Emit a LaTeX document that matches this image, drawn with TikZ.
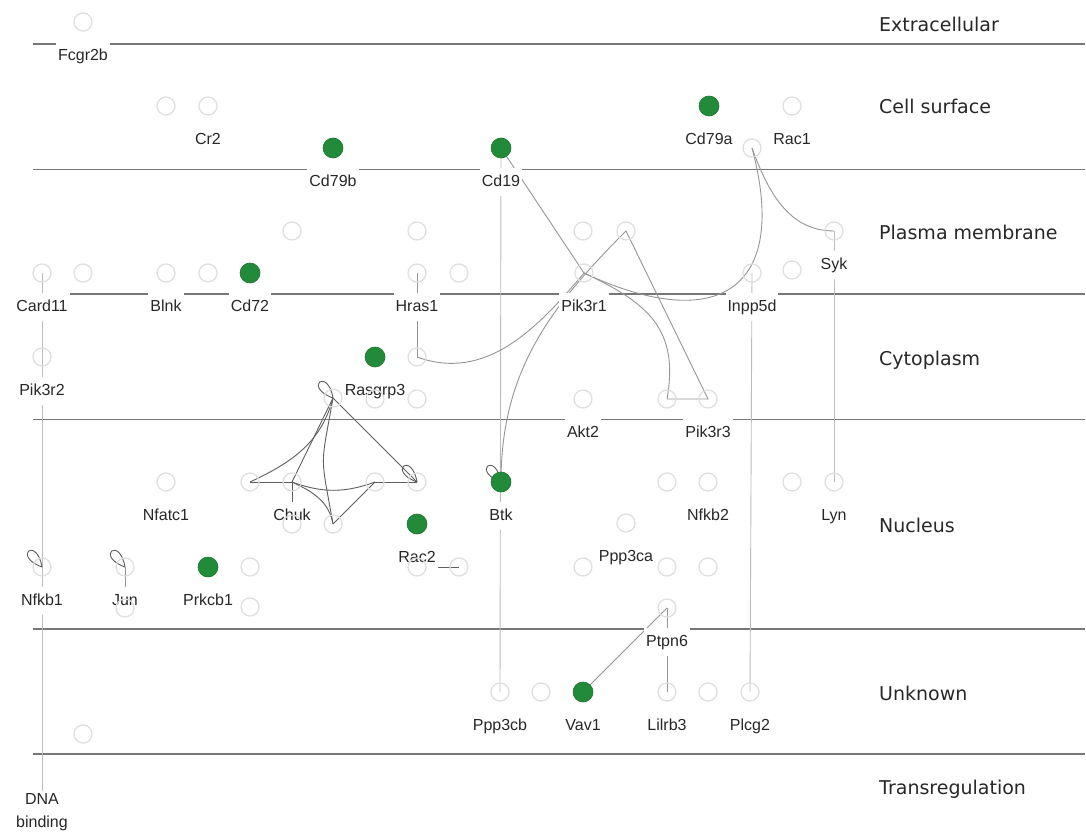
\documentclass[tikz,border=0pt]{standalone}
\usepackage{fontspec}
\setmainfont{Liberation Sans}
\newfontfamily\regionfont{DejaVu Sans}
\usetikzlibrary{backgrounds}
\definecolor{hitgreen}{RGB}{33,139,58}
\definecolor{ringgray}{RGB}{222,222,222}
\definecolor{wire}{RGB}{150,150,150}
\definecolor{wirelight}{RGB}{188,188,188}
\definecolor{wiredark}{RGB}{95,95,95}
\definecolor{membrane}{RGB}{118,118,118}
\definecolor{ink}{RGB}{40,40,40}
\tikzset{
  prot/.style={circle,draw=ringgray,line width=1.2pt,minimum size=18pt,inner sep=0pt},
  hit/.style={circle,draw=hitgreen!85!black,fill=hitgreen,line width=0.6pt,minimum size=20pt,inner sep=0pt},
  gene/.style={fill=white,inner xsep=2pt,inner ysep=6pt,text=ink,
    font=\fontsize{16}{19}\selectfont,text height=12pt,text depth=3.5pt},
  dnalbl/.style={fill=white,inner sep=2pt,text=ink,align=center,font=\fontsize{16}{23}\selectfont},
  region/.style={anchor=west,inner sep=0pt,text=ink,
    font=\regionfont\fontsize{19}{22}\selectfont,text height=14pt,text depth=4pt},
  wall/.style={draw=membrane,line width=1.1pt},
  link/.style={draw=#1,line width=0.9pt},
  link/.default=wire,
  selfloop/.style={out=100,in=160,min distance=32pt},
}
\begin{document}
\begin{tikzpicture}[x=1pt,y=1pt]
  % proteins
  \foreach \n/\x/\y/\t in {fcgr2b/83/22/Fcgr2b,cr2/208/106/Cr2,rac1/792/106/Rac1,syk/834/231/Syk,
      card11/42/273/Card11,blnk/166/273/Blnk,hras1/417/273/Hras1,pik3r1/584/273/Pik3r1,
      inpp5d/752/273/Inpp5d,pik3r2/42/357/Pik3r2,akt2/583/399/Akt2,pik3r3/708/399/Pik3r3,
      nfatc1/166/482/Nfatc1,chuk/292/482/Chuk,nfkb2/708/482/Nfkb2,lyn/834/482/Lyn,
      ppp3ca/626/523/Ppp3ca,nfkb1/42/567/Nfkb1,jun/125/567/Jun,ptpn6/667/608/Ptpn6,
      ppp3cb/500/692/Ppp3cb,lilrb3/667/692/Lilrb3,plcg2/750/692/Plcg2}{
    \node[prot] (\n) at (\x,-\y) {};
    \node[gene] (\n-t) at (\x,-\y-34) {\t};
  }
  \foreach \n/\x/\y/\t in {cd79b/333/148/Cd79b,cd19/501/148/Cd19,cd79a/709/106/Cd79a,
      cd72/250/273/Cd72,rasgrp3/375/357/Rasgrp3,btk/501/482/Btk,rac2/417/524/Rac2,
      prkcb1/208/567/Prkcb1,vav1/583/692/Vav1}{
    \node[hit] (\n) at (\x,-\y) {};
    \node[gene] (\n-t) at (\x,-\y-34) {\t};
  }
  \foreach \n/\x/\y in {cs1/166/106,cs2/752/148,pm1/292/231,pm2/417/231,pm3/583/231,pm4/626/231,
      pm5/83/273,pm6/208/273,pm7/459/273,pm8/792/270,cy1/417/357,cy2/333/398,cy3/375/399,
      cy4/417/399,cy5/667/399,nu1/250/482,nu2/375/482,nu3/417/482,nu4/667/482,nu5/792/482,
      nu6/292/524,nu7/333/524,nu8/250/567,nu9/417/567,nu10/459/567,nu11/583/567,nu12/667/567,
      nu13/708/567,nu14/125/608,nu15/250/607,un1/541/692,un2/708/692,un3/83/734}
    \node[prot] (\n) at (\x,-\y) {};
  \node[prot,draw=hitgreen!20] (dna) at (42,-815) {};
  \node[dnalbl] (dna-t) at (42,-812) {DNA\\binding};
  % compartments
  \foreach \t/\y/\r in {Extracellular/26.5/extra,Cell surface/108.5/surf,Plasma membrane/235/plasma,
      Cytoplasm/360/cyto,Nucleus/527/nucl,Unknown/695/unkn,Transregulation/789.5/trans}
    \node[region] (\r) at (879,-\y) {\t};

  \begin{pgfonlayer}{background}
    \fill[white,use as bounding box] (0,0) rectangle (1086,-834);
    \foreach \y in {44,169.5,294,419.5,629,754}
      \draw[wall] (33,-\y) -- (1085,-\y);
    \draw[link=wirelight] (card11.center) -- (dna.center);
    \draw[link=wirelight] (cd19.center) -- (ppp3cb.center);
    \draw[link=wirelight] (syk.center) -- (lyn.center);
    \draw[link=wirelight] (inpp5d.center) -- (plcg2.center);
    \draw[link] (hras1.center) -- (cy1.center);
    \draw[link] (cy1.center) to[out=-20,in=230] (pik3r1.center);
    \draw[link] (cd19.center) -- (pik3r1.center);
    \draw[link] (pik3r1.center) to[out=-25,in=80,looseness=1.2] (cy5.center);
    \draw[link] (cy5.center) -- (pik3r3.center) -- (pm4.center);
    \draw[link] (pm4.center) to[out=225,in=90] (btk.center);
    \draw[link] (pik3r1.center) to[out=-25,in=-75,looseness=1.8] (cs2.center);
    \draw[link] (cs2.center) to[out=-70,in=180] (syk.center);
    \draw[link] (ptpn6.center) -- (vav1.center);
    \draw[link] (ptpn6.center) -- (lilrb3.center);
    \draw[link] (jun.center) -- (nu14.center);
    \draw[link=wiredark] (nu9.center) -- (nu10.center);
    % complex round Chuk
    \draw[link=wiredark] (cy2.center) to[out=-105,in=25] (nu1.center);
    \draw[link=wiredark] (cy2.center) -- (chuk.center);
    \draw[link=wiredark] (cy2.center) to[out=-100,in=100,looseness=1.5] (nu7.center);
    \draw[link=wiredark] (cy2.center) -- (nu3.center);
    \draw[link=wiredark] (nu1.center) -- (chuk.center);
    \draw[link=wiredark] (chuk.center) to[bend right=20] (nu2.center);
    \draw[link=wiredark] (nu2.center) -- (nu3.center);
    \draw[link=wiredark] (chuk.center) to[out=-25,in=100] (nu7.center);
    \draw[link=wiredark] (nu2.center) -- (nu7.center);
    \draw[link=wiredark] (chuk.center) -- (nu6.center);
    \foreach \n in {nfkb1,jun,cy2,nu3,btk}
      \draw[link=wiredark] (\n.center) to[selfloop] (\n.center);
  \end{pgfonlayer}
\end{tikzpicture}
\end{document}
